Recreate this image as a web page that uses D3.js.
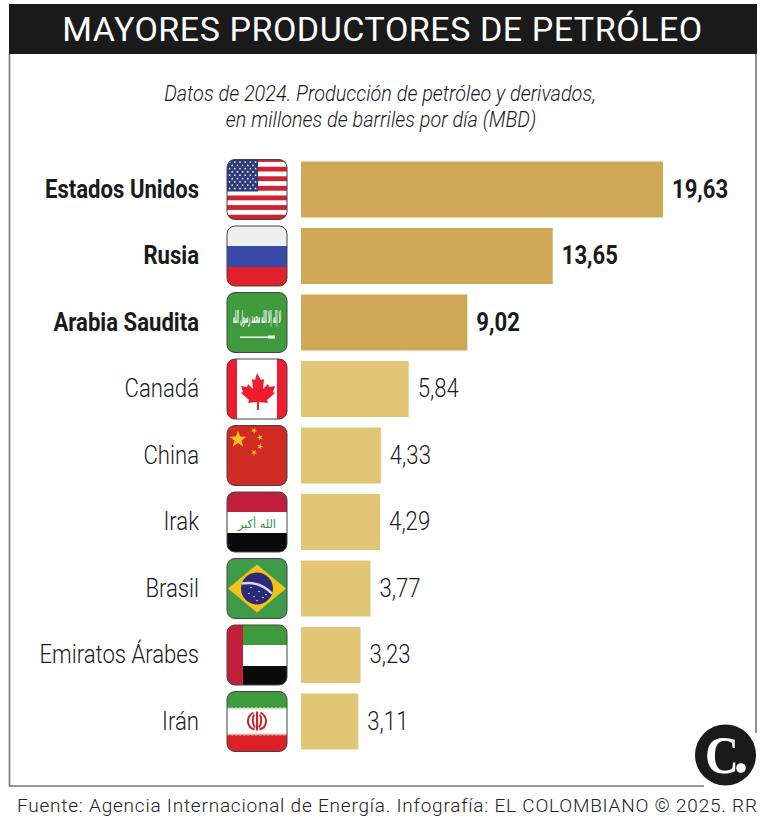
<!DOCTYPE html>
<html lang="es">
<head>
<meta charset="utf-8">
<title>Mayores productores de petróleo</title>
<script src="https://cdn.jsdelivr.net/npm/d3@7"></script>
<style>
  html, body { margin: 0; padding: 0; background: #fff; }
  svg { display: block; }
  text { font-family: Roboto, sans-serif; }
</style>
</head>
<body>
<svg id="chart" width="764" height="824"></svg>
<script>
// Data
const countries = ['Estados Unidos', 'Rusia', 'Arabia Saudita', 'Canadá', 'China', 'Irak', 'Brasil', 'Emiratos Árabes', 'Irán'];
const values = [19.63, 13.65, 9.02, 5.84, 4.33, 4.29, 3.77, 3.23, 3.11];
const highlighted = ['Estados Unidos', 'Rusia', 'Arabia Saudita'];
const titleText = 'MAYORES PRODUCTORES DE PETRÓLEO';
const subtitleLines = ['Datos de 2024. Producción de petróleo y derivados,', 'en millones de barriles por día (MBD)'];
const sourceText = 'Fuente: Agencia Internacional de Energía. Infografía: EL COLOMBIANO © 2025. RR';

const svg = d3.select('#chart');
const fmt = d3.format('.2f');
const comma = d => fmt(d).replace('.', ',');

const x = d3.scaleLinear().domain([0, 19.63]).range([301, 663]);
const y = d3.scaleBand().domain(countries).range([156.25, 754.75]).paddingInner(0.158).paddingOuter(0.079);

// condensed text: Roboto squeezed horizontally
function label(parent, px, py, str, size, o = {}) {
  return parent.append('text')
    .attr('transform', `translate(${px},${py}) scale(${o.sx || 0.84},1)`)
    .attr('text-anchor', o.anchor || 'start')
    .attr('font-size', size)
    .attr('font-weight', o.weight || 400)
    .attr('font-style', o.style || 'normal')
    .attr('fill', o.fill || '#1a1a1a')
    .text(str);
}

// frame
svg.append('path')
  .attr('d', 'M9.5 54V786H704M756 54V733')
  .attr('fill', 'none').attr('stroke', '#777').attr('stroke-width', 1.6);

// title
svg.append('rect').attr('x', 9).attr('y', 4).attr('width', 748).attr('height', 50).attr('fill', '#1a1a1a');
label(svg, 382.5, 41, titleText, 34, { anchor: 'middle', fill: '#fff', sx: 1 }).attr('letter-spacing', 0.55);

// subtitle
subtitleLines.forEach((s, i) => {
  label(svg, 380 + i, 101 + i * 25.5, s, 21.5, { anchor: 'middle', style: 'italic', weight: 300, sx: 0.925 });
});

// bars
svg.selectAll('.bar').data(countries).enter().append('rect')
  .attr('class', 'bar')
  .attr('x', x(0))
  .attr('y', d => y(d))
  .attr('width', (d, i) => x(values[i]) - x(0))
  .attr('height', y.bandwidth())
  .attr('fill', d => highlighted.includes(d) ? '#cfa855' : '#e3c576');

// country names and values
countries.forEach((c, i) => {
  const hi = highlighted.includes(c);
  const base = y(c) + y.bandwidth() / 2 + 8;
  label(svg, 199, base, c, 25, { anchor: 'end', weight: hi ? 700 : 300, sx: 0.885 });
  label(svg, x(values[i]) + 9, base, comma(values[i]), 25, { weight: hi ? 700 : 300, sx: 0.885 });
});

// flags, each drawn in a 60x60 box
function star(g, cx, cy, r, fill, rot = 0) {
  const pts = d3.range(10).map(k => {
    const a = -Math.PI / 2 + k * Math.PI / 5 + rot;
    const rr = k % 2 ? r * 0.4 : r;
    return [cx + rr * Math.cos(a), cy + rr * Math.sin(a)].join(',');
  }).join(' ');
  g.append('polygon').attr('points', pts).attr('fill', fill);
}
function band(g, bx, by, w, h, fill) {
  g.append('rect').attr('x', bx).attr('y', by).attr('width', w).attr('height', h).attr('fill', fill);
}

const flags = {
  'Estados Unidos': g => {
    band(g, 0, 0, 60, 60, '#fff');
    d3.range(7).forEach(k => band(g, 0, k * 9.6 - 2.4, 60, 4.8, '#cf2333'));
    band(g, 0, 0, 31, 32, '#2e3a78');
    d3.range(9).forEach(r => d3.range(r % 2 ? 5 : 6).forEach(c =>
      star(g, (r % 2 ? 5.2 : 2.6) + c * 5.2, 2.6 + r * 3.3, 1.4, '#fff')));
  },
  'Rusia': g => {
    band(g, 0, 0, 60, 20, '#efefef');
    band(g, 0, 20, 60, 21, '#3a4aa8');
    band(g, 0, 41, 60, 19, '#e0202c');
  },
  'Arabia Saudita': g => {
    band(g, 0, 0, 60, 60, '#3e9a3c');
    g.append('text').attr('x', 30).attr('y', 30).attr('text-anchor', 'middle')
      .attr('font-size', 17).attr('font-weight', 700).attr('fill', '#fff')
      .style('font-family', 'DejaVu Sans')
      .attr('textLength', 48).attr('lengthAdjust', 'spacingAndGlyphs')
      .text('لا إله إلا الله محمد رسول الله');
    band(g, 13, 44, 32, 1.4, '#fff');
    band(g, 41, 43, 7, 3, '#fff');
  },
  'Canadá': g => {
    band(g, 0, 0, 60, 60, '#fff');
    band(g, 0, 0, 10, 60, '#ed1c2e');
    band(g, 50, 0, 10, 60, '#ed1c2e');
    g.append('path').attr('fill', '#ed1c2e')
      .attr('d', 'M30 14l4 7 3-1-1 10 5-5 1 3 6-1-2 6 2 1-8 7 1 3-9-1v8h-2v-8l-9 1 1-3-8-7 2-1-2-6 6 1 1-3 5 5-1-10 3 1z');
  },
  'China': g => {
    band(g, 0, 0, 60, 60, '#d02a25');
    star(g, 11, 14, 9, '#fcc21c');
    star(g, 27, 5, 3.2, '#fcc21c', 0.5);
    star(g, 33, 12, 3.2, '#fcc21c', 0.9);
    star(g, 33, 21, 3.2, '#fcc21c', 0.2);
    star(g, 27, 27, 3.2, '#fcc21c', 0.6);
  },
  'Irak': g => {
    band(g, 0, 0, 60, 20, '#c0203c');
    band(g, 0, 20, 60, 21, '#fff');
    band(g, 0, 41, 60, 19, '#0a0a0a');
    g.append('text').attr('x', 30).attr('y', 36).attr('text-anchor', 'middle')
      .attr('font-size', 12).attr('fill', '#3c8f46')
      .style('font-family', 'DejaVu Sans')
      .attr('textLength', 38).attr('lengthAdjust', 'spacingAndGlyphs')
      .text('الله أكبر');
  },
  'Brasil': g => {
    band(g, 0, 0, 60, 60, '#3f9a4a');
    g.append('polygon').attr('points', '30,6 59,30 30,54 1,30').attr('fill', '#f2c31c');
    g.append('circle').attr('cx', 30).attr('cy', 30).attr('r', 16).attr('fill', '#2a2a78');
    g.append('path').attr('d', 'M15 25Q32 22 45 35').attr('fill', 'none').attr('stroke', '#d8d8e8').attr('stroke-width', 2.4);
    [[22, 35], [27, 38], [32, 33], [36, 39], [30, 42], [24, 29], [39, 36]].forEach(p =>
      g.append('circle').attr('cx', p[0]).attr('cy', p[1]).attr('r', 0.7).attr('fill', '#fff'));
  },
  'Emiratos Árabes': g => {
    band(g, 0, 0, 60, 20, '#3f9a3c');
    band(g, 0, 20, 60, 21, '#fff');
    band(g, 0, 41, 60, 19, '#0a0a0a');
    band(g, 0, 0, 16, 60, '#c0203c');
  },
  'Irán': g => {
    band(g, 0, 0, 60, 17, '#3f9a3c');
    band(g, 0, 17, 60, 26, '#fff');
    band(g, 0, 43, 60, 17, '#dc2028');
    // kufic edging along the white stripe
    d3.range(15).forEach(k => {
      band(g, k * 4, 16, 2.6, 2, '#cfe5c8');
      band(g, k * 4, 42, 2.6, 2, '#f0b0b0');
    });
    g.append('path').attr('fill', 'none').attr('stroke', '#cf2028').attr('stroke-width', 2)
      .attr('d', 'M30 20V39M26.5 21C18 26 20 36 27.5 38M33.5 21C42 26 40 36 32.5 38M27 23C25 28 26 33 28 36M33 23C35 28 34 33 32 36');
  }
};

const defs = svg.append('defs');
defs.append('clipPath').attr('id', 'flagClip').append('rect')
  .attr('width', 60).attr('height', 60).attr('rx', 8);

countries.forEach(c => {
  const g = svg.append('g')
    .attr('transform', `translate(227,${y(c) + y.bandwidth() / 2 - 30})`);
  const inner = g.append('g').attr('clip-path', 'url(#flagClip)');
  flags[c](inner);
  g.append('rect').attr('width', 60).attr('height', 60).attr('rx', 8)
    .attr('fill', 'none').attr('stroke', '#444').attr('stroke-width', 1);
});

// logo
svg.append('circle').attr('cx', 725.5).attr('cy', 755).attr('r', 30.5).attr('fill', '#1a1a1a');
svg.append('text').attr('transform', 'translate(722,773) scale(0.9,1)').attr('text-anchor', 'middle')
  .attr('font-size', 52).attr('font-weight', 700).attr('fill', '#fff')
  .style('font-family', 'Liberation Serif').text('C');
svg.append('circle').attr('cx', 741).attr('cy', 768).attr('r', 4.8).attr('fill', '#fff');

// source
svg.append('text').attr('x', 17).attr('y', 812)
  .attr('font-size', 19).attr('font-weight', 300).attr('fill', '#222')
  .attr('textLength', 740).attr('lengthAdjust', 'spacing')
  .text(sourceText);
</script>
</body>
</html>
